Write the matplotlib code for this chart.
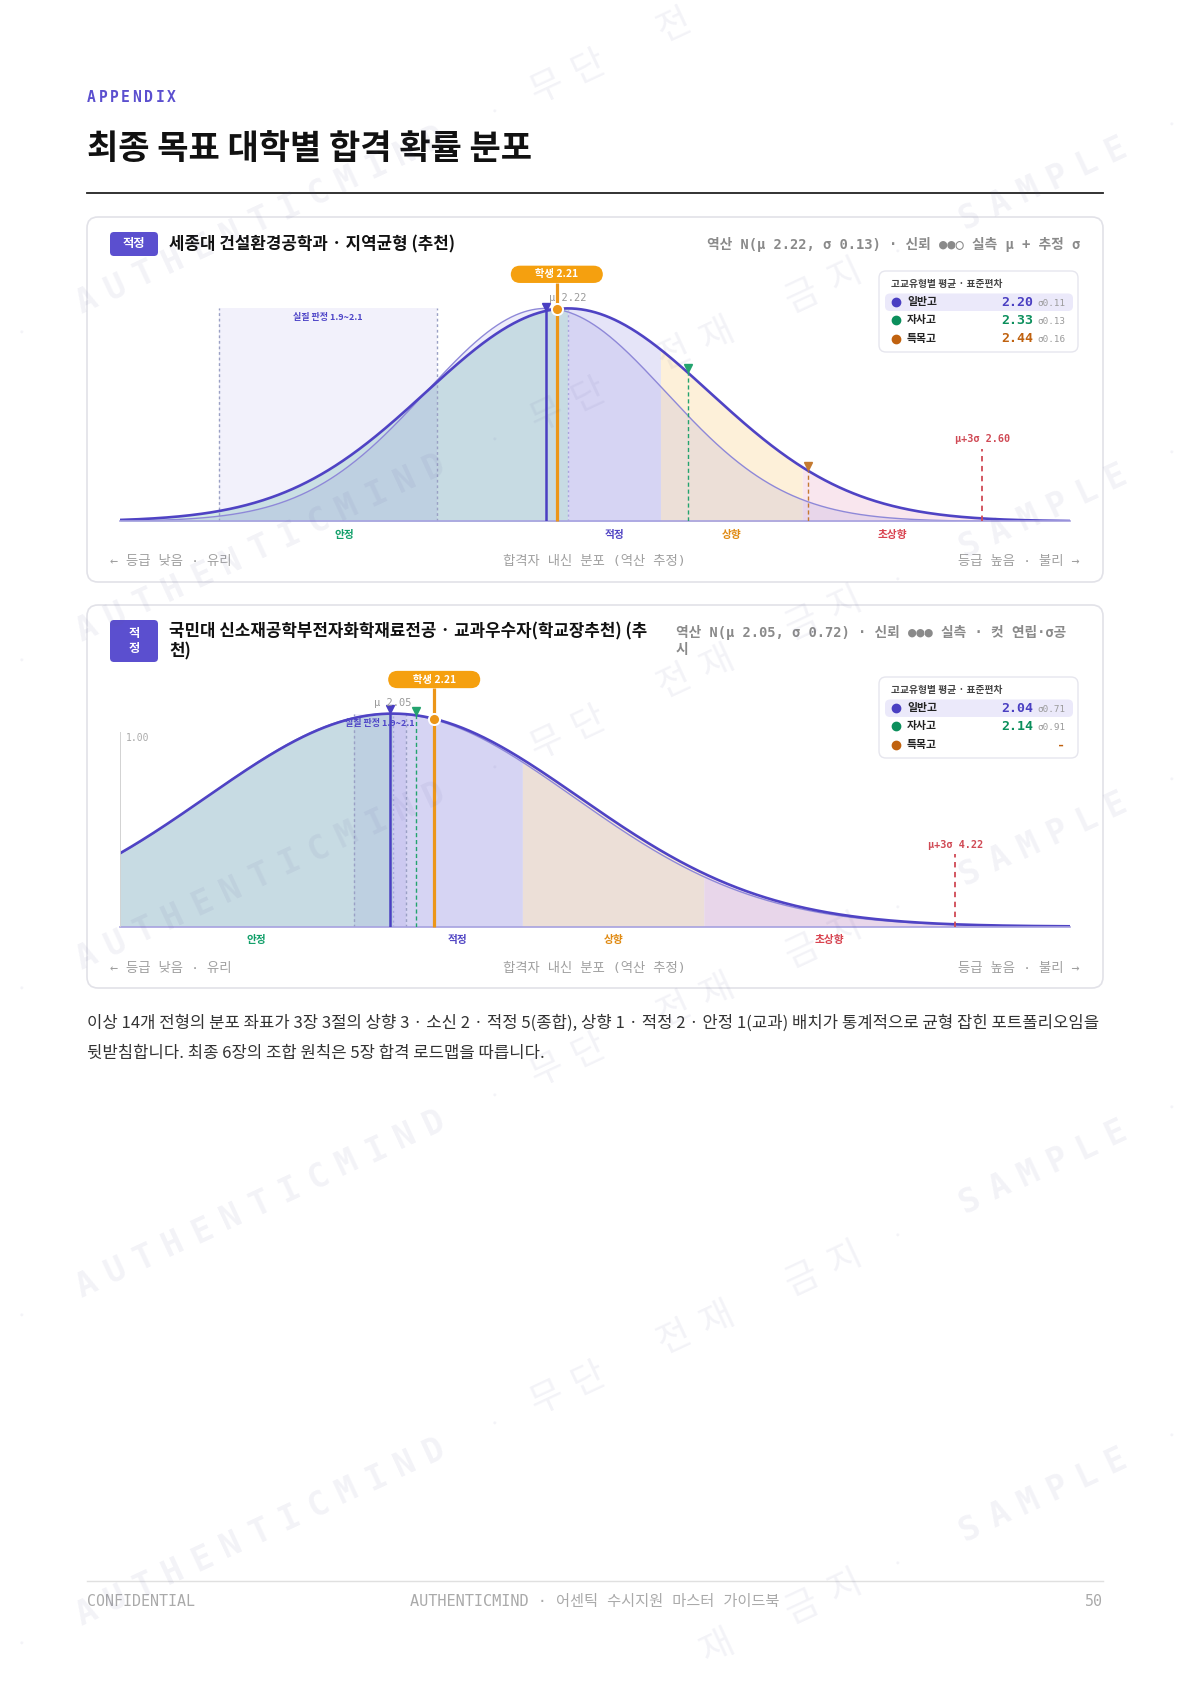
import numpy as np
import matplotlib.pyplot as plt
from matplotlib.patches import FancyBboxPatch, Rectangle

plt.rcParams['font.family'] = ['Noto Sans CJK KR', 'DejaVu Sans']
MONO = ['DejaVu Sans Mono', 'Noto Sans CJK KR']

# ---------------- data ----------------
tier_names = ['안정', '적정', '상향', '초상향']
school_types = ['일반고', '자사고', '특목고']
student_grade = 2.21
band = (1.9, 2.1)

c1_badge = '적정'
c1_title = ['세종대 건설환경공학과 · 지역균형 (추천)']
c1_note = ['역산 N(μ 2.22, σ 0.13) · 신뢰 ●●○ 실측 μ + 추정 σ']
c1_mu, c1_sd, c1_p3 = 2.22, 0.13, 2.60
c1_xrange = (1.81, 2.68)
c1_cuts = [2.22, 2.305, 2.435]
c1_means = [2.20, 2.33, 2.44]
c1_sds = [0.11, 0.13, 0.16]

c2_badge = '적\n정'
c2_title = ['국민대 신소재공학부전자화학재료전공 · 교과우수자(학교장추천) (추', '천)']
c2_note = ['역산 N(μ 2.05, σ 0.72) · 신뢰 ●●● 실측 · 컷 연립·σ공', '시']
c2_mu, c2_sd, c2_p3 = 2.05, 0.72, 4.22
c2_xrange = (1.0, 4.66)
c2_cuts = [2.05, 2.55, 3.25]
c2_means = [2.04, 2.14, None]
c2_sds = [0.71, 0.91, None]

page_title = '최종 목표 대학별 합격 확률 분포'
para = ['이상 14개 전형의 분포 좌표가 3장 3절의 상향 3 · 소신 2 · 적정 5(종합), 상향 1 · 적정 2 · 안정 1(교과) 배치가 통계적으로 균형 잡힌 포트폴리오임을',
        '뒷받침합니다. 최종 6장의 조합 원칙은 5장 합격 로드맵을 따릅니다.']

# ---------------- style ----------------
W, H = 1191, 1685
PURPLE = '#5b4fcf'
tier_text = ['#12a06a', '#5246c4', '#e08a12', '#d9434f']
tier_fill = ['#d4ece6', '#e5e4f8', '#fdf0d9', '#f9e6ee']
type_col = ['#4a3fc2', '#0b8f5c', '#c0620f']
type_tri = ['#4a3fc2', '#23a36e', '#c47a30']
ORANGE = '#ec9618'
RED = '#d04a55'
UNIT = 213.0  # px per y unit


def bell(x, m, s):
    return np.exp(-0.5 * ((np.asarray(x) - m) / s) ** 2)


fig = plt.figure(figsize=(W / 100, H / 100), dpi=100)
bg = fig.add_axes([0, 0, 1, 1])
bg.set_xlim(0, W)
bg.set_ylim(H, 0)
bg.axis('off')

# page header
for i, ch in enumerate('APPENDIX'):
    bg.text(87 + i * 11.4, 97, ch, family=MONO, weight='bold', fontsize=10.5,
            color=PURPLE, va='center', ha='left')
bg.text(87, 148, page_title, fontsize=24.5, weight='heavy', color='#111', va='center')
bg.plot([87, 1103], [193.5, 193.5], color='#222', lw=1.3)


def draw_legend(x0, y0, means, sds):
    bg.add_patch(FancyBboxPatch((x0, y0), 199, 81, boxstyle='round,pad=0,rounding_size=7',
                                fc='white', ec='#e6e6ee', lw=1, zorder=3))
    bg.text(x0 + 12, y0 + 13, '고교유형별 평균 · 표준편차', fontsize=7, weight='bold',
            color='#444', va='center', zorder=4)
    bg.add_patch(FancyBboxPatch((x0 + 6, y0 + 22.5), 188, 17.5,
                                boxstyle='round,pad=0,rounding_size=5',
                                fc='#ebe9fa', ec='none', zorder=3))
    for k in range(3):
        yy = y0 + 31 + k * 18.5
        bg.plot(x0 + 16.5, yy, 'o', ms=6, color=type_col[k], zorder=4)
        bg.text(x0 + 28, yy, school_types[k], fontsize=7.8, weight='bold', color='#222',
                va='center', zorder=4)
        if means[k] is None:
            bg.text(x0 + 186, yy, '-', family=MONO, weight='bold', fontsize=9.5,
                    color=type_col[k], va='center', ha='right', zorder=4)
        else:
            bg.text(x0 + 154, yy, f'{means[k]:.2f}', family=MONO, weight='bold', fontsize=9.5,
                    color=type_col[k], va='center', ha='right', zorder=4)
            bg.text(x0 + 158, yy + 1, f'σ{sds[k]:.2f}', family=MONO, fontsize=6.7,
                    color='#9a9a9a', va='center', ha='left', zorder=4)


def draw_chart(ax, mu, sd, xr, cuts, means, sds, p3, show_y=False):
    ax.set_xlim(*xr)
    ax.set_ylim(0, 1.3)
    ax.axis('off')
    ax.patch.set_alpha(0)
    xs = np.linspace(xr[0], xr[1], 800)
    main = bell(xs, mu, sd)
    own = bell(xs, means[0], sds[0])
    edges = [xr[0]] + list(cuts) + [xr[1]]
    for i in range(4):
        xz = np.linspace(edges[i], edges[i + 1], 200)
        ax.fill_between(xz, 0, bell(xz, mu, sd), color=tier_fill[i], lw=0, zorder=1)
        lab_x = (edges[i] + min(edges[i + 1], p3)) / 2
        ax.annotate(tier_names[i], (lab_x, 0), xytext=(0, -9.7), textcoords='offset points',
                    ha='center', va='center', fontsize=7.7, weight='bold',
                    color=tier_text[i], annotation_clip=False)
    ax.fill_between(xs, 0, own, color=PURPLE, alpha=0.10, lw=0, zorder=2)

    # 실질 판정 band
    ax.add_patch(Rectangle((band[0], 0), band[1] - band[0], 1, fc=PURPLE, alpha=0.08,
                           lw=0, zorder=3))
    ax.vlines(band, 0, 1, colors='#9aa0c4', linestyles=(0, (2, 2)), lw=1, zorder=3)
    ax.text(sum(band) / 2, 0.955, f'실질 판정 {band[0]}~{band[1]}', ha='center', va='center',
            fontsize=6.5, weight='bold', color='#4f46c8', zorder=9)

    ax.plot(xs, own, color='#8e88d8', lw=1.0, zorder=4)
    ax.plot(xs, main, color='#4f43c4', lw=1.9, zorder=5)
    ax.plot(xr, [0, 0], color='#a7a2e0', lw=1.2, zorder=5, clip_on=False)

    # μ
    ax.vlines(mu, 0, 1, colors='#aaa6dd', linestyles=(0, (1.5, 2)), lw=1, zorder=6)
    ax.text(mu, 1.05, f'μ {mu:.2f}', family=MONO, fontsize=7.5, color='#999',
            ha='center', va='center', zorder=9)

    # school-type means
    for k in range(3):
        m = means[k]
        if m is None:
            continue
        yv = bell(m, mu, sd)
        if k == 0:
            ax.vlines(m, 0, yv, colors=type_col[0], lw=1.8, zorder=7)
        else:
            ax.vlines(m, 0, yv, colors=type_tri[k], lw=1, linestyles=(0, (3, 2)), zorder=7)
        ax.plot(m, yv + 0.02, marker='v', ms=6, color=type_tri[k], zorder=8, clip_on=False)

    # μ+3σ
    ax.vlines(p3, 0, 0.34, colors=RED, lw=1.3, linestyles=(0, (3, 2.5)), zorder=6)
    ax.text(p3, 0.385, f'μ+3σ {p3:.2f}', family=MONO, weight='bold', fontsize=7.3,
            color=RED, ha='center', va='center', zorder=9)

    # student
    ys = bell(student_grade, mu, sd)
    ax.vlines(student_grade, 0, 1.12, colors=ORANGE, lw=2.3, zorder=9, clip_on=False)
    ax.plot(student_grade, ys, 'o', ms=8, mfc=ORANGE, mec='white', mew=1.4, zorder=10)
    ax.text(student_grade, 1.16, f'\u3000\u3000학생 {student_grade:.2f}\u3000\u3000', ha='center',
            va='center', fontsize=7.5, weight='bold', color='white', zorder=11,
            bbox=dict(boxstyle='round,pad=0.35,rounding_size=0.9', fc='#f5a00f', ec='none'))

    if show_y:
        ax.vlines(xr[0], 0, 0.915, colors='#cfcfcf', lw=1.3, zorder=6)
        ax.annotate('1.00', (xr[0], 0.885), xytext=(4, 0), textcoords='offset points',
                    family=MONO, fontsize=7, color='#aaa', va='center', ha='left')


cards = [
    dict(top=217, h=365, badge=c1_badge, badge_h=24, title=c1_title, title_y=[244],
         note=c1_note, note_y=[244], note_right=True, leg_y=271, base=521.4,
         mu=c1_mu, sd=c1_sd, xr=c1_xrange, cuts=c1_cuts, means=c1_means, sds=c1_sds,
         p3=c1_p3, show_y=False, foot_y=562),
    dict(top=605, h=383, badge=c2_badge, badge_h=42, title=c2_title, title_y=[631, 651],
         note=c2_note, note_y=[632, 650], note_right=False, leg_y=677, base=926.6,
         mu=c2_mu, sd=c2_sd, xr=c2_xrange, cuts=c2_cuts, means=c2_means, sds=c2_sds,
         p3=c2_p3, show_y=True, foot_y=968.6),
]

for c in cards:
    bg.add_patch(FancyBboxPatch((87, c['top']), 1016, c['h'],
                                boxstyle='round,pad=0,rounding_size=11',
                                fc='white', ec='#e2e2e8', lw=1.2, zorder=1))
    by = c['top'] + 15
    bg.add_patch(FancyBboxPatch((110, by), 48, c['badge_h'],
                                boxstyle='round,pad=0,rounding_size=4',
                                fc=PURPLE, ec='none', zorder=2))
    bg.text(134, by + c['badge_h'] / 2, c['badge'], color='white', weight='bold', fontsize=8.8,
            ha='center', va='center', linespacing=1.15, zorder=3)
    for t, ty in zip(c['title'], c['title_y']):
        bg.text(169, ty, t, fontsize=12.1, weight='bold', color='#111', va='center', zorder=3)
    for t, ty in zip(c['note'], c['note_y']):
        if c['note_right']:
            bg.text(1080, ty, t, family=MONO, fontsize=9.9, weight='bold', color='#8a8a8a',
                    ha='right', va='center', zorder=3)
        else:
            bg.text(676, ty, t, family=MONO, fontsize=9.9, weight='bold', color='#8a8a8a',
                    ha='left', va='center', zorder=3)
    draw_legend(879, c['leg_y'], c['means'], c['sds'])
    fy = c['foot_y']
    bg.text(110, fy, '← 등급 낮음 · 유리', family=MONO, fontsize=9.6, color='#a0a0a0',
            va='center', ha='left', zorder=3)
    bg.text(594.5, fy, '합격자 내신 분포 (역산 추정)', family=MONO, fontsize=9.6, color='#a0a0a0',
            va='center', ha='center', zorder=3)
    bg.text(1080, fy, '등급 높음 · 불리 →', family=MONO, fontsize=9.6, color='#a0a0a0',
            va='center', ha='right', zorder=3)

    ax = fig.add_axes([120.4 / W, (H - c['base']) / H, 949.2 / W, 1.3 * UNIT / H])
    draw_chart(ax, c['mu'], c['sd'], c['xr'], c['cuts'], c['means'], c['sds'], c['p3'],
               c['show_y'])

# paragraph
bg.text(87, 1023.4, para[0], fontsize=12.0, color='#333', va='center')
bg.text(87, 1053.5, para[1], fontsize=12.0, color='#333', va='center')

# footer
bg.plot([87, 1103], [1581, 1581], color='#e0e0e0', lw=1)
bg.text(87, 1601.8, 'CONFIDENTIAL', family=MONO, fontsize=10.8, color='#aaa', va='center')
bg.text(594.5, 1601.8, 'AUTHENTICMIND · 어센틱 수시지원 마스터 가이드북', family=MONO,
        fontsize=11, color='#aaa', va='center', ha='center')
bg.text(1103, 1601.8, '50', family=MONO, fontsize=10.8, color='#aaa', va='center', ha='right')

# watermark
wm = fig.add_axes([0, 0, 1, 1])
wm.set_xlim(0, W)
wm.set_ylim(H, 0)
wm.axis('off')
wm.patch.set_alpha(0)
ANG = 25
ca, sa = np.cos(np.radians(ANG)), np.sin(np.radians(ANG))
SL = 0.466
WM_KW = dict(color='#5b5b9b', alpha=0.075, rotation=ANG, ha='center', va='center')


def spaced(cx, cy, s, pitch, **kw):
    n = len(s)
    for i, ch in enumerate(s):
        d = (i - (n - 1) / 2) * pitch
        x, y = cx + d * ca, cy - d * sa
        if ch == ' ' or not (22 < x < W - 22 and 24 < y < H - 30):
            continue
        wm.text(x, y, ch, **WM_KW, **kw)


f = 1.075
for y0 in [-100, 205, 510, 815, 1120, 1425, 1730]:
    def pt(x):
        return x * f, (y0 - (x - 242) * SL) * f
    x, y = pt(242)
    spaced(x, y, 'AUTHENTICMIND', 32, family=MONO, weight='bold', fontsize=24)
    x, y = pt(647)
    spaced(x, y, '무단 전재 금지', 47, fontsize=26)
    x, y = pt(970)
    spaced(x, y, 'SAMPLE', 32, family=MONO, weight='bold', fontsize=24)
    for dx in [20, 460, 835, 1090]:
        x, y = pt(dx)
        if 10 < y < H - 10:
            wm.text(x, y, '•', fontsize=9, **WM_KW)

fig.savefig('out.png', dpi=100)
